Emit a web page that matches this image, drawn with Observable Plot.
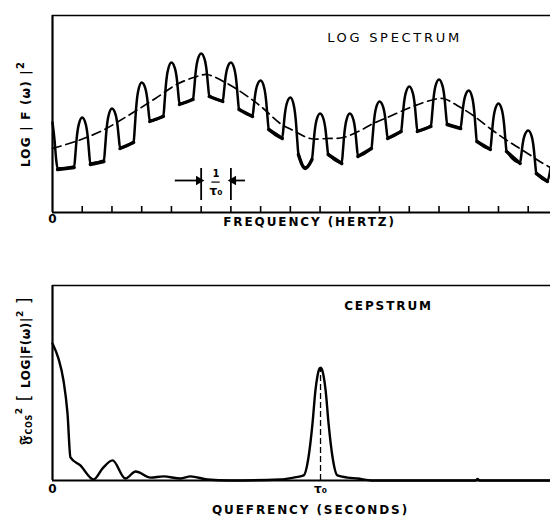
<!DOCTYPE html>
<html><head><meta charset="utf-8">
<script src="https://cdn.jsdelivr.net/npm/d3@7"></script>
<script src="https://cdn.jsdelivr.net/npm/@observablehq/plot@0.6"></script>
<style>
body{margin:0;background:#fff;}
#chart{position:relative;width:550px;height:520px;background:#fff;}
#chart svg{position:absolute;left:0;}
</style></head><body><div id="chart"></div>
<script>
// ---------- LOG SPECTRUM (frequency in harmonic units, level arbitrary) ----------
const spectrumFreq = [0,0.07,0.12,0.17,
 0.73,0.77,0.81,0.88,1,1.12,1.19,1.23,1.27,
 1.73,1.77,1.81,1.88,2,2.12,2.19,2.23,2.27,
 2.73,2.77,2.81,2.88,3,3.12,3.19,3.23,3.27,
 3.73,3.77,3.81,3.88,4,4.12,4.19,4.23,4.27,
 4.73,4.77,4.81,4.88,5,5.12,5.19,5.23,5.27,
 5.73,5.77,5.81,5.88,6,6.12,6.19,6.23,6.27,
 6.73,6.77,6.81,6.88,7,7.12,7.19,7.23,7.27,
 7.73,7.77,7.81,7.88,8,8.12,8.19,8.23,8.27,8.5,
 8.73,8.77,8.81,8.88,9,9.12,9.19,9.23,9.27,
 9.73,9.77,9.81,9.88,10,10.12,10.19,10.23,10.27,
 10.73,10.77,10.81,10.88,11,11.12,11.19,11.23,11.27,
 11.73,11.77,11.81,11.88,12,12.12,12.19,12.23,12.27,
 12.73,12.77,12.81,12.88,13,13.12,13.19,13.23,13.27,
 13.73,13.77,13.81,13.88,14,14.12,14.19,14.23,14.27,
 14.73,14.77,14.81,14.88,15,15.12,15.19,15.23,15.27,
 15.73,15.77,15.81,15.88,16,16.12,16.19,16.23,16.27,
 16.65,16.75];
const spectrumLevel = [45,36,27,22,
 23,29.1,36.5,43.8,47.5,44,37.2,30.3,24.5,
 26,32.5,40.3,48.1,52,49.1,43.2,37.4,32.5,
 35.5,42.9,51.7,60.6,65,62.2,56.5,50.8,46,
 48.5,55.1,63.1,71,75,71.9,65.8,59.6,54.5,
 57,62.6,69.4,76.1,79.5,76.4,70.1,63.8,58.5,
 56,60.8,66.5,72.2,75,71.6,64.7,57.8,52,
 48.5,52.9,58.1,63.4,66,62.4,55.2,48,42,
 37.5,42.5,48.5,54.5,57.5,53.3,44.9,36.5,29.5,22.5,
 27,32.6,39.4,46.1,49.5,46.5,40.5,34.5,29.5,
 25,31.1,38.5,45.8,49.5,46.4,40.1,33.8,28.5,
 32.5,38.3,45.2,52.1,55.5,52.8,47.4,42,37.5,
 41,46.5,53.1,59.7,63,59.7,53.1,46.5,41,
 43.5,49.3,56.2,63.1,66.5,63.2,56.6,50,44.5,
 42.5,47.1,52.7,58.2,61,57.3,49.8,42.3,36,
 32,37.6,44.4,51.1,54.5,51,43.9,36.9,31,
 25,29,33.8,38.6,41,37.9,31.6,25.3,20,
 16,22];
const noisyTroughs = [[0.17,0.73],[1.27,1.73],[2.27,2.73],[3.27,3.73],[4.27,4.73],[5.27,5.73],
 [6.27,6.73],[7.27,7.73],[8.27,8.73],[9.27,9.73],[10.27,10.73],[11.27,11.73],[12.27,12.73],
 [13.27,13.73],[14.27,14.73],[15.27,15.73],[16.27,16.65]];
const envelopeFreq = [0,0.87,1.68,2.55,3.46,4.24,4.97,5.2,5.88,6.66,7.09,7.66,8.1,8.67,9.24,9.78,
 10.35,10.79,11.26,12.03,12.71,13.14,13.61,14.15,14.72,15.29,15.83,16.5,16.75];
const envelopeLevel = [32,36,41,48.5,57,64.5,68.5,69,64.5,57,52,44.5,41,37,37,37.5,
 41,44.5,47.5,52.5,56,57,53.5,48.5,42,36,31,24.5,22.5];
const harmonicTicks = [1,2,3,4,5,6,7,8,9,10,11,12,13,14,15,16];
const freqTickLabels = [{f:0, label:"0"}];
const periodBars = [5,6];
const periodArrows = [{from:4.13, to:4.9, head:4.92, dir:90}, {from:6.49, to:6.1, head:6.08, dir:-90}];

// ---------- CEPSTRUM (quefrency in units of tau0) ----------
const cepstrumQuef = [0,0.022,0.041,0.056,0.067,0.104,0.153,0.187,0.224,0.272,0.31,0.366,0.414,0.478,0.515,0.578,0.66,
 0.851,0.899,0.937,0.955,0.970,0.981,0.996,1,1.004,1.019,1.030,1.045,1.063,1.101,1.138,1.19,1.578,1.586,1.593,1.858];
const cepstrumLevel = [70.3,62.6,51.3,34.4,11.8,7.7,0.5,6.2,10.3,1.0,4.6,1.5,2.1,1.0,2.1,0.5,0,
 0.5,1.5,2.6,11.8,29.2,46.2,57.4,57.9,57.4,46.2,29.2,11.8,2.6,1.5,1.0,0,0,0.8,0,0];
const quefTickLabels = [{q:0, label:"0"}, {q:1, label:"τ₀"}];
const tau0 = 1;

const spectrum = spectrumFreq.map((f,i)=>({f, v:spectrumLevel[i]}));
const envelope = envelopeFreq.map((f,i)=>({f, v:envelopeLevel[i]}));
const noise = [];
noisyTroughs.forEach(([s,e],k)=>spectrum.forEach(d=>{ if(d.f>=s-1e-9 && d.f<=e+1e-9) noise.push({f:d.f, v:d.v, k}); }));
const cepstrum = cepstrumQuef.map((q,i)=>({q, v:cepstrumLevel[i]}));
const cepPeak = d3.max(cepstrum.filter(d=>Math.abs(d.q-tau0)<0.01), d=>d.v);

const font = "DejaVu Sans, sans-serif";
const topMax = 98.5;

const topPlot = Plot.plot({
  width:550, height:255, marginTop:15, marginBottom:43, marginLeft:52, marginRight:0,
  x:{domain:[0,16.75], axis:null}, y:{domain:[0,topMax], axis:null},
  style:{fontFamily:font, background:"white", overflow:"visible", color:"black"},
  marks:[
    Plot.ruleX([0],{strokeWidth:2.2}),
    Plot.ruleY([0],{strokeWidth:2.2}),
    Plot.ruleY([topMax],{strokeWidth:1.6}),
    Plot.tickX(harmonicTicks,{x:d=>d, insetTop:191, strokeWidth:1.6}),
    Plot.line(envelope,{x:"f", y:"v", curve:"catmull-rom", strokeDasharray:"9,5", strokeWidth:1.7}),
    Plot.line(spectrum,{x:"f", y:"v", curve:"monotone-x", strokeWidth:2.5}),
    Plot.line(noise,{x:"f", y:"v", z:"k", curve:"monotone-x", strokeWidth:3.4, dy:1}),
    Plot.ruleX(periodBars,{x:d=>d, y1:6, y2:22, strokeWidth:1.8}),
    Plot.ruleY(periodArrows,{x1:"from", x2:"to", y:()=>16, strokeWidth:1.8}),
    Plot.dot(periodArrows,{x:"head", y:()=>16, symbol:"triangle", rotate:"dir", r:3.6, fill:"black", stroke:"none"}),
    Plot.text([{x:5.5, y:19.5, t:"1"}],{x:"x", y:"y", text:"t", fontSize:10, fontWeight:"bold"}),
    Plot.ruleY([15.2],{x1:5.36, x2:5.64, strokeWidth:1.2}),
    Plot.text([{x:5.5, y:10.5, t:"τ₀"}],{x:"x", y:"y", text:"t", fontSize:12, fontWeight:"bold"}),
    Plot.text(freqTickLabels,{x:"f", text:"label", frameAnchor:"bottom", dy:10, fontSize:12, fontWeight:"bold"}),
    Plot.text(["FREQUENCY (HERTZ)"],{frameAnchor:"bottom", dx:8, dy:13, fontSize:12, fontWeight:"bold"}),
    Plot.text(["LOG SPECTRUM"],{frameAnchor:"top", dx:93, dy:17, fontSize:13})
  ]
});

const botPlot = Plot.plot({
  width:550, height:260, marginTop:25, marginBottom:40, marginLeft:52, marginRight:0,
  x:{domain:[0,1.858], axis:null}, y:{domain:[0,100], axis:null},
  style:{fontFamily:font, background:"white", overflow:"visible", color:"black"},
  marks:[
    Plot.ruleX([0],{strokeWidth:2.2}),
    Plot.ruleY([0],{strokeWidth:2.2}),
    Plot.ruleY([100],{strokeWidth:1.6}),
    Plot.ruleX([tau0],{x:d=>d, y1:0, y2:cepPeak, strokeDasharray:"6,3", strokeWidth:1.3}),
    Plot.line(cepstrum,{x:"q", y:"v", curve:"monotone-x", strokeWidth:2.4}),
    Plot.text(quefTickLabels,{x:"q", text:"label", frameAnchor:"bottom", dy:12, fontSize:12, fontWeight:"bold"}),
    Plot.text(["QUEFRENCY (SECONDS)"],{frameAnchor:"bottom", dx:9, dy:33, fontSize:12, fontWeight:"bold"}),
    Plot.text(["CEPSTRUM"],{frameAnchor:"top", dx:87, dy:16, fontSize:12, fontWeight:"bold"})
  ]
});

const chart = document.getElementById("chart");
topPlot.style.top = "0px";
botPlot.style.top = "260px";
chart.appendChild(topPlot);
chart.appendChild(botPlot);

// letter spacing on the lettered labels
[topPlot, botPlot].forEach(svg=>{
  d3.select(svg).selectAll("text").each(function(){
    const t = this.textContent;
    if (t === "LOG SPECTRUM") d3.select(this).attr("letter-spacing", 2.7);
    else if (t.length > 3) d3.select(this).attr("letter-spacing", 1.9);
  });
});

// rotated y labels
const yl1 = d3.select(topPlot).append("text")
  .attr("transform","translate(30,114) rotate(-90)")
  .attr("text-anchor","middle").attr("font-family",font).attr("font-weight","bold")
  .attr("font-size",12).attr("letter-spacing",1.2).attr("fill","black");
yl1.append("tspan").text("LOG | F (ω) |");
yl1.append("tspan").attr("font-size",10).attr("dy",-6).text("2");

const yl2 = d3.select(botPlot).append("text")
  .attr("transform","translate(30,111) rotate(-90)")
  .attr("text-anchor","middle").attr("font-family",font).attr("font-weight","bold")
  .attr("font-size",12).attr("letter-spacing",0.6).attr("fill","black");
yl2.append("tspan").attr("font-size",15).text("𝔉");
yl2.append("tspan").attr("font-size",8).attr("dy",2).text("COS");
yl2.append("tspan").attr("font-size",9).attr("dy",-10).text("2");
yl2.append("tspan").attr("font-size",17).attr("dy",8).attr("font-weight","normal").text(" [ ");
yl2.append("tspan").text("LOG|F(ω)|");
yl2.append("tspan").attr("font-size",9).attr("dy",-7).text("2");
yl2.append("tspan").attr("font-size",17).attr("dy",7).attr("font-weight","normal").text(" ]");
</script></body></html>
